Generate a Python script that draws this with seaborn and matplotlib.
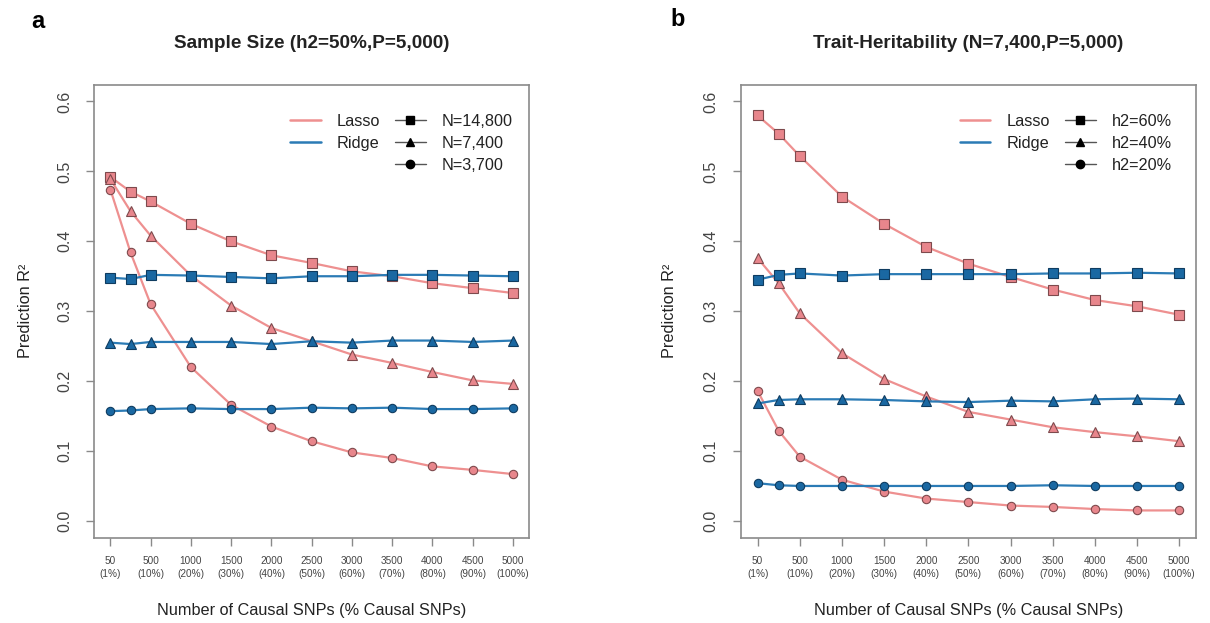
import matplotlib
matplotlib.use("Agg")
import matplotlib.pyplot as plt
from matplotlib.lines import Line2D
import numpy as np
import pandas as pd
import seaborn as sns

# ---------------- data ----------------
tick_positions = [1, 2, 3, 4, 5, 6, 7, 8, 9, 10, 11]
tick_labels = ["50\n(1%)", "500\n(10%)", "1000\n(20%)", "1500\n(30%)", "2000\n(40%)",
               "2500\n(50%)", "3000\n(60%)", "3500\n(70%)", "4000\n(80%)", "4500\n(90%)",
               "5000\n(100%)"]
point_positions = [1, 1.5, 2, 3, 4, 5, 6, 7, 8, 9, 10, 11]

# Panel a: sample size
a_groups = ["N=14,800", "N=7,400", "N=3,700"]
a_lasso_14800 = [0.492, 0.471, 0.457, 0.425, 0.400, 0.380, 0.369, 0.357, 0.350, 0.340, 0.333, 0.326]
a_lasso_7400 = [0.489, 0.443, 0.408, 0.351, 0.308, 0.276, 0.257, 0.238, 0.226, 0.213, 0.201, 0.196]
a_lasso_3700 = [0.474, 0.384, 0.310, 0.220, 0.166, 0.135, 0.114, 0.098, 0.090, 0.078, 0.073, 0.067]
a_ridge_14800 = [0.348, 0.346, 0.352, 0.351, 0.349, 0.347, 0.350, 0.350, 0.352, 0.352, 0.351, 0.350]
a_ridge_7400 = [0.255, 0.253, 0.256, 0.256, 0.256, 0.253, 0.257, 0.255, 0.258, 0.258, 0.256, 0.258]
a_ridge_3700 = [0.157, 0.158, 0.160, 0.161, 0.160, 0.160, 0.162, 0.161, 0.162, 0.160, 0.160, 0.161]

# Panel b: trait heritability
b_groups = ["h2=60%", "h2=40%", "h2=20%"]
b_lasso_60 = [0.580, 0.554, 0.522, 0.464, 0.425, 0.392, 0.368, 0.349, 0.331, 0.316, 0.307, 0.295]
b_lasso_40 = [0.376, 0.340, 0.297, 0.240, 0.203, 0.178, 0.156, 0.145, 0.134, 0.127, 0.121, 0.114]
b_lasso_20 = [0.186, 0.129, 0.092, 0.059, 0.042, 0.032, 0.027, 0.022, 0.020, 0.017, 0.015, 0.015]
b_ridge_60 = [0.345, 0.352, 0.354, 0.351, 0.353, 0.353, 0.353, 0.353, 0.354, 0.354, 0.355, 0.354]
b_ridge_40 = [0.168, 0.173, 0.174, 0.174, 0.173, 0.171, 0.170, 0.172, 0.171, 0.174, 0.175, 0.174]
b_ridge_20 = [0.054, 0.051, 0.050, 0.050, 0.050, 0.050, 0.050, 0.050, 0.051, 0.050, 0.050, 0.050]

methods = ["Lasso", "Ridge"]
markers = ["s", "^", "o"]
marker_sizes = [6.8, 7.8, 6.0]

titles = ["Sample Size (h2=50%,P=5,000)", "Trait-Heritability (N=7,400,P=5,000)"]
panel_letters = ["a", "b"]
xlabel = "Number of Causal SNPs (% Causal SNPs)"
ylabel = "Prediction R²"


def long_table(groups, lasso, ridge):
    rows = []
    for method, series in zip(methods, [lasso, ridge]):
        for g, vals in zip(groups, series):
            for p, v in zip(point_positions, vals):
                rows.append({"pos": p, "r2": v, "method": method, "group": g})
    return pd.DataFrame(rows)


df_a = long_table(a_groups, [a_lasso_14800, a_lasso_7400, a_lasso_3700],
                  [a_ridge_14800, a_ridge_7400, a_ridge_3700])
df_b = long_table(b_groups, [b_lasso_60, b_lasso_40, b_lasso_20],
                  [b_ridge_60, b_ridge_40, b_ridge_20])

# ---------------- style ----------------
sns.set_style("white")
plt.rcParams["font.family"] = ["Liberation Sans", "DejaVu Sans"]

line_colors = {"Lasso": "#EE9090", "Ridge": "#2B7BB5"}
face_colors = {"Lasso": "#E8868C", "Ridge": "#1A68A2"}
edge_colors = {"Lasso": "#7E4A4D", "Ridge": "#0F3C60"}
box_color = "#8A8A8A"
text_color = "#222222"
tick_text_color = "#444444"

W, H = 1210, 623
fig = plt.figure(figsize=(W / 100, H / 100), dpi=100)
fig.patch.set_facecolor("white")

# axes boxes in pixels: (left, top, right, bottom)
boxes = [(94.3, 84.7, 529.0, 537.7), (740.7, 84.7, 1196.0, 537.7)]
letter_pos = [(38, 21), (678, 20)]
legend_anchor_px = [(513, 114), (1172, 114)]

for i, (df, groups) in enumerate([(df_a, a_groups), (df_b, b_groups)]):
    l, t, r, b = boxes[i]
    ax = fig.add_axes([l / W, 1 - b / H, (r - l) / W, (b - t) / H])
    for method in methods:
        for g, m, ms in zip(groups, markers, marker_sizes):
            sub = df[(df["method"] == method) & (df["group"] == g)]
            sns.lineplot(data=sub, x="pos", y="r2", ax=ax, color=line_colors[method],
                         linewidth=1.6, marker=m, markersize=ms,
                         markerfacecolor=face_colors[method],
                         markeredgecolor=edge_colors[method], markeredgewidth=0.8,
                         estimator=None, sort=False, legend=False)

    ax.set_xlim(0.6, 11.4)
    ax.set_ylim(-0.024, 0.624)
    ax.set_xticks(tick_positions)
    ax.set_xticklabels(tick_labels, fontsize=7.2, color=tick_text_color, linespacing=1.35)
    ax.set_yticks([0.0, 0.1, 0.2, 0.3, 0.4, 0.5, 0.6])
    ax.set_yticklabels(["0.0", "0.1", "0.2", "0.3", "0.4", "0.5", "0.6"],
                       fontsize=11.5, color=tick_text_color, rotation=90, va="center")
    ax.tick_params(axis="x", direction="out", length=6, width=1, color=box_color, pad=7, bottom=True)
    ax.tick_params(axis="y", direction="out", length=6, width=1, color=box_color, pad=10, left=True)
    for s in ax.spines.values():
        s.set_color(box_color)
        s.set_linewidth(1.2)
        s.set_visible(True)
    ax.grid(False)

    ax.set_xlabel(xlabel, fontsize=11.7, color=text_color)
    ax.xaxis.set_label_coords(0.5, (b - 610) / (b - t))
    ax.xaxis.label.set_va("center")
    ax.set_ylabel(ylabel, fontsize=11.7, color=text_color)
    ylab_x = 26 if i == 0 else 670
    ax.yaxis.set_label_coords((ylab_x - l) / (r - l), 0.5)
    ax.yaxis.label.set_va("center")

    ax.text(0.5, (b - 44) / (b - t), titles[i], transform=ax.transAxes, ha="center",
            va="center", fontsize=13.6, fontweight="bold", color=text_color)
    fig.text(letter_pos[i][0] / W, 1 - letter_pos[i][1] / H, panel_letters[i],
             ha="center", va="center", fontsize=17, fontweight="bold", color="black")

    handles = [Line2D([], [], color=line_colors["Lasso"], lw=1.8),
               Line2D([], [], color=line_colors["Ridge"], lw=1.8),
               Line2D([], [], color="none")]
    labels = ["Lasso", "Ridge", ""]
    for g, m in zip(groups, markers):
        handles.append(Line2D([], [], color="#555555", lw=1.0, marker=m, markersize=6,
                              markerfacecolor="black", markeredgecolor="black"))
        labels.append(g)
    ax_px, ay_px = legend_anchor_px[i]
    leg = ax.legend(handles, labels, ncol=2, frameon=False, fontsize=11.7,
                    loc="upper right",
                    bbox_to_anchor=((ax_px - l) / (r - l), (b - ay_px) / (b - t)),
                    borderpad=0, borderaxespad=0, handlelength=1.9, handletextpad=1.0,
                    columnspacing=0.9, labelspacing=0.42)
    for txt in leg.get_texts():
        txt.set_color(text_color)

fig.savefig("out.png", dpi=100, facecolor="white")
